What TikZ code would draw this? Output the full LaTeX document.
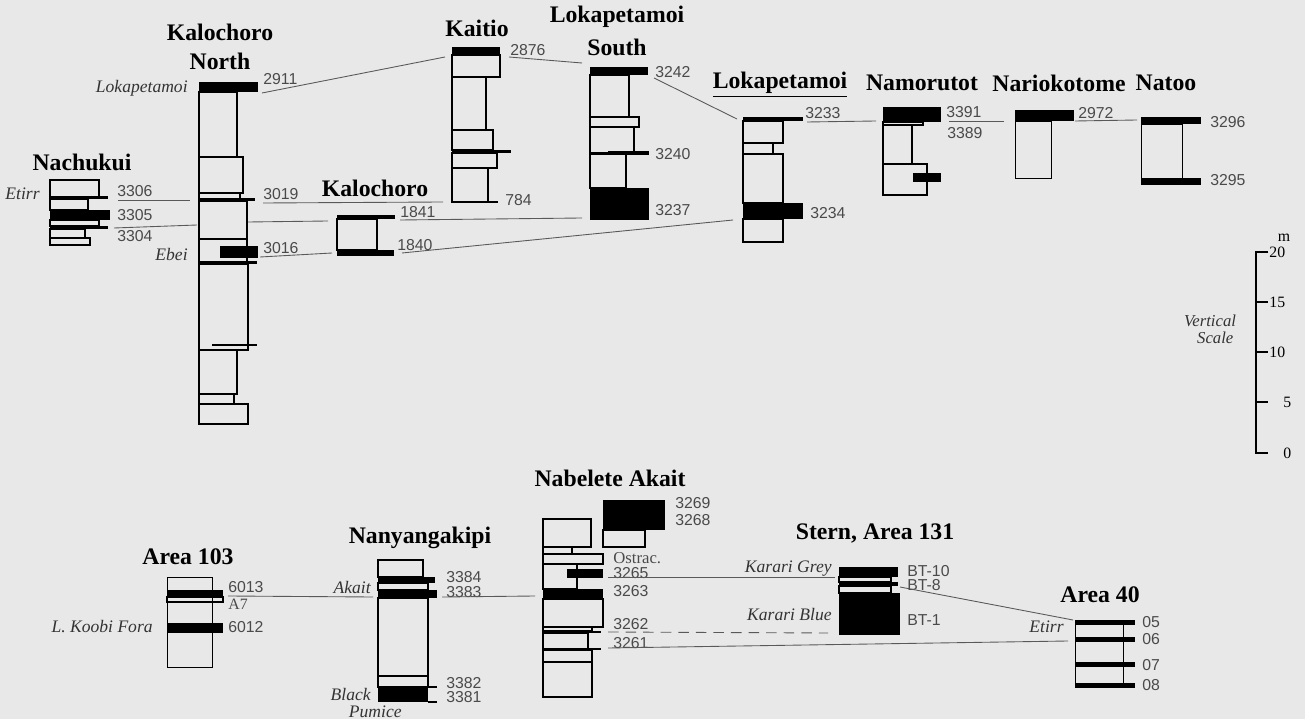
\documentclass[tikz,border=0pt]{standalone}
\usepackage{fontspec}
\setmainfont{Liberation Serif}
\setsansfont{Liberation Sans}
\usetikzlibrary{positioning}
\definecolor{paper}{HTML}{E8E8E8}
\definecolor{numgray}{HTML}{4A4A4A}

\begin{document}
\begin{tikzpicture}[x=0.02cm, y=-0.02cm,
        bed/.style={draw, line width=0.8pt},
        thinbed/.style={draw, line width=0.5pt},
        corr/.style={draw=black!65, line width=0.5pt},
        num/.style={anchor=west, inner sep=0pt, text=numgray, font=\sffamily\fontsize{9}{10}\selectfont},
        tuff/.style={anchor=east, inner sep=0pt, text=black!80, font=\itshape\fontsize{10}{11}\selectfont},
        fm/.style={align=center, inner sep=0pt, font=\bfseries\fontsize{13.5}{16.5}\selectfont}]
      \useasboundingbox[fill=paper] (0,0) rectangle (1305,719);

      % Section titles
      \node[fm] (tNachukui) at (82,162) {Nachukui};
      \node[fm] (tKalNorth) at (220,47) {Kalochoro\\North};
      \node[fm] (tKaitio) at (477,28) {Kaitio};
      \node[fm] (tKalochoro) at (375,188) {Kalochoro};
      \node[fm, font=\bfseries\fontsize{13.5}{18.5}\selectfont] (tLokSouth) at (617,31) {Lokapetamoi\\South};
      \node[fm] (tLokapetamoi) at (780,85) {\underline{Lokapetamoi}};
      \node[fm] (tNamorutot) at (922,83) {Namorutot};
      \node[fm] (tNariokotome) at (1059,83) {Nariokotome};
      \node[fm] (tNatoo) at (1166,83) {Natoo};
      \node[fm] (tArea103) at (188,557) {Area 103};
      \node[fm] (tNanyang) at (420,538) {Nanyangakipi};
      \node[fm] (tNabelete) at (610,478) {Nabelete Akait};
      \node[fm] (tStern) at (875,533) {Stern, Area 131};
      \node[fm] (tArea40) at (1100,595) {Area 40};

      % Nachukui
      \draw[bed] (50,180) rectangle (99,197);
      \fill (50,196) rectangle (108,199);
      \draw[bed] (50,199) rectangle (88,210);
      \fill (50,210) rectangle (110,220);
      \draw[bed] (50,220) rectangle (99,226);
      \fill (50,226) rectangle (108,229);
      \draw[bed] (50,229) rectangle (85,238);
      \draw[bed] (50,238) rectangle (90,245);
      \node[tuff] (etirrA) at (40,194) {Etirr};
      \node[num] (n3306) at (117,191) {3306};
      \node[num] (n3305) at (117,215) {3305};
      \node[num] (n3304) at (117,236) {3304};

      % Kalochoro North
      \fill (199,82) rectangle (258,92);
      \draw[bed] (199,92) rectangle (237,157);
      \draw[bed] (199,157) rectangle (243,193);
      \draw[bed] (199,193) rectangle (240,199);
      \fill (199,198) rectangle (255,201);
      \draw[bed] (199,201) rectangle (247,239);
      \draw[bed] (199,239) rectangle (247,262);
      \fill (220,246) rectangle (258,258);
      \fill (199,261) rectangle (257,264);
      \draw[bed] (199,264) rectangle (248,350);
      \fill (212,344) rectangle (257,346);
      \draw[bed] (199,350) rectangle (237,394);
      \draw[bed] (199,394) rectangle (234,404);
      \draw[bed] (199,404) rectangle (248,424);
      \node[tuff] (lokA) at (188,88) {Lokapetamoi};
      \node[tuff] (ebei) at (188,254) {Ebei};
      \node[num] (n2911) at (263,79) {2911};
      \node[num] (n3019) at (263,194) {3019};
      \node[num] (n3016) at (263,248) {3016};

      % Kaitio
      \fill (452,47) rectangle (500,55);
      \draw[bed] (452,55) rectangle (500,77);
      \draw[bed] (452,77) rectangle (486,130);
      \draw[bed] (452,130) rectangle (493,150);
      \fill (452,150) rectangle (511,153);
      \draw[bed] (452,153) rectangle (497,168);
      \draw[bed] (452,168) rectangle (488,202);
      \fill (452,201) rectangle (498,203);
      \node[num] (n2876) at (510,50) {2876};
      \node[num] (n784) at (505,200) {784};

      % Kalochoro
      \fill (337,215) rectangle (395,219);
      \draw[bed] (337,219) rectangle (377,250);
      \fill (337,250) rectangle (394,256);
      \node[num] (n1841) at (400,212) {1841};
      \node[num] (n1840) at (397,245) {1840};

      % Lokapetamoi South
      \fill (590,67) rectangle (648,75);
      \draw[bed] (590,75) rectangle (629,117);
      \draw[bed] (590,117) rectangle (639,127);
      \draw[bed] (590,127) rectangle (634,153);
      \fill (608,151) rectangle (649,155);
      \draw[bed] (590,154) rectangle (626,188);
      \fill (590,188) rectangle (649,220);
      \node[num] (n3242) at (655,72) {3242};
      \node[num] (n3240) at (655,154) {3240};
      \node[num] (n3237) at (655,210) {3237};

      % Lokapetamoi
      \fill (743,117) rectangle (803,121);
      \draw[bed] (743,121) rectangle (783,143);
      \draw[bed] (743,143) rectangle (773,154);
      \draw[bed] (743,154) rectangle (783,203);
      \fill (743,203) rectangle (803,219);
      \draw[bed] (743,219) rectangle (783,242);
      \node[num] (n3233) at (805,113) {3233};
      \node[num] (n3234) at (810,213) {3234};

      % Namorutot
      \fill (883,107) rectangle (941,122);
      \draw[bed] (883,122) rectangle (923,125);
      \draw[bed] (883,125) rectangle (912,164);
      \draw[bed] (883,164) rectangle (927,195);
      \fill (913,173) rectangle (941,182);
      \node[num] (n3391) at (946,112) {3391};
      \node[num] (n3389) at (947,133) {3389};

      % Nariokotome
      \fill (1015,110) rectangle (1074,121);
      \draw[thinbed] (1015,121) rectangle (1051,178);
      \node[num] (n2972) at (1078,113) {2972};

      % Natoo
      \fill (1141,117) rectangle (1201,124);
      \draw[thinbed] (1141,124) rectangle (1182,178);
      \fill (1141,178) rectangle (1201,185);
      \node[num] (n3296) at (1210,122) {3296};
      \node[num] (n3295) at (1210,180) {3295};

      % Correlation lines, upper row
      \coordinate (knA) at (262,93);   \coordinate (ktA) at (445,57);
      \coordinate (ktB) at (509,57);   \coordinate (lsA) at (582,63);
      \coordinate (lsB) at (654,78);   \coordinate (lkA) at (737,119);
      \coordinate (lkB) at (807,122);  \coordinate (nmA) at (876,121);
      \coordinate (nmB) at (949,121);  \coordinate (nkA) at (1004,121);
      \coordinate (nkB) at (1075,121); \coordinate (ntA) at (1137,120);
      \coordinate (ncA) at (118,200);  \coordinate (knB) at (190,200);
      \coordinate (ncB) at (114,228);  \coordinate (knC) at (197,225);
      \coordinate (knD) at (263,203);  \coordinate (ktC) at (443,202);
      \coordinate (knE) at (248,222);  \coordinate (kcA) at (328,221);
      \coordinate (kcB) at (400,220);  \coordinate (lsC) at (582,218);
      \coordinate (knF) at (260,257);  \coordinate (kcC) at (332,253);
      \coordinate (kcD) at (402,253);  \coordinate (lkC) at (733,220);
      \draw[corr] (knA) -- (ktA);
      \draw[corr] (ktB) -- (lsA);
      \draw[corr] (lsB) -- (lkA);
      \draw[corr] (lkB) -- (nmA);
      \draw[corr] (nmB) -- (nkA);
      \draw[corr] (nkB) -- (ntA);
      \draw[corr] (ncA) -- (knB);
      \draw[corr] (ncB) -- (knC);
      \draw[corr] (knD) -- (ktC);
      \draw[corr] (knE) -- (kcA);
      \draw[corr] (kcB) -- (lsC);
      \draw[corr] (knF) -- (kcC);
      \draw[corr] (kcD) -- (lkC);

      % Vertical scale
      \draw[line width=0.9pt] (1268,252) -- (1256,252) -- (1256,453) -- (1268,453);
      \foreach \yy in {302,352,402}
        \draw[line width=0.9pt] (1256,\yy) -- (1268,\yy);
      \node[inner sep=0pt, font=\fontsize{9}{10}\selectfont] (unitm) at (1284,238) {m};
      \node[num, text=black, font=\fontsize{9}{10}\selectfont] (s20) at (1269,252) {20};
      \node[num, text=black, font=\fontsize{9}{10}\selectfont] (s15) at (1269,302) {15};
      \node[num, text=black, font=\fontsize{9}{10}\selectfont] (s10) at (1269,352) {10};
      \node[num, text=black, font=\fontsize{9}{10}\selectfont] (s5) at (1283,402) {5};
      \node[num, text=black, font=\fontsize{9}{10}\selectfont] (s0) at (1283,453) {0};
      \node[align=center, inner sep=0pt, text=black!80, font=\itshape\fontsize{9.5}{9.5}\selectfont] (vscale) at (1210,329) {Vertical\\\hspace*{6pt}Scale};

      % Area 103
      \draw[thinbed] (167,577) rectangle (212,667);
      \fill (167,590) rectangle (223,597);
      \draw[bed] (167,597) rectangle (223,602);
      \fill (167,623) rectangle (223,633);
      \node[num] (n6013) at (228,587) {6013};
      \node[num, font=\fontsize{9}{10}\selectfont] (nA7) at (228,604) {A7};
      \node[num] (n6012) at (228,627) {6012};
      \node[tuff] (koobi) at (153,627) {L. Koobi Fora};

      % Nanyangakipi
      \draw[bed] (378,560) rectangle (423,577);
      \fill (378,577) rectangle (435,583);
      \draw[bed] (378,583) rectangle (428,590);
      \fill (378,590) rectangle (437,598);
      \draw[bed] (378,598) rectangle (428,676);
      \draw[bed] (378,676) rectangle (428,687);
      \fill (378,687) rectangle (428,702);
      \draw[bed] (428,687) -- (437,687);
      \draw[bed] (428,702) -- (437,702);
      \node[num] (n3384) at (446,577) {3384};
      \node[num] (n3383) at (446,592) {3383};
      \node[num] (n3382) at (446,683) {3382};
      \node[num] (n3381) at (446,697) {3381};
      \node[tuff] (akait) at (371,587) {Akait};
      \node[tuff] (black) at (371,694) {Black};
      \node[tuff] (pumice) at (402,712) {Pumice};

      % Nabelete Akait
      \fill (603,500) rectangle (665,530);
      \draw[bed] (603,530) rectangle (645,547);
      \draw[bed] (543,519) rectangle (591,547);
      \draw[bed] (543,547) rectangle (572,554);
      \draw[bed] (543,554) rectangle (603,564);
      \draw[bed] (543,564) rectangle (577,589);
      \fill (567,569) rectangle (603,578);
      \fill (543,589) rectangle (603,599);
      \draw[bed] (543,599) rectangle (603,627);
      \draw[bed] (543,627) rectangle (592,631);
      \fill (543,631) rectangle (601,633);
      \draw[bed] (543,633) rectangle (588,649);
      \fill (543,648) rectangle (601,650);
      \draw[bed] (543,650) rectangle (592,662);
      \draw[bed] (543,662) rectangle (592,697);
      \node[num] (n3269) at (675,503) {3269};
      \node[num] (n3268) at (675,520) {3268};
      \node[num, font=\fontsize{9.5}{10}\selectfont] (ostrac) at (613,558) {Ostrac.};
      \node[num] (n3265) at (613,573) {3265};
      \node[num] (n3263) at (613,591) {3263};
      \node[num] (n3262) at (613,624) {3262};
      \node[num] (n3261) at (613,643) {3261};

      % Stern, Area 131
      \fill (839,567) rectangle (898,577);
      \draw[bed] (839,577) rectangle (891,582);
      \fill (839,582) rectangle (898,586);
      \draw[bed] (839,586) rectangle (891,593);
      \fill (839,593) rectangle (900,635);
      \node[num] (nBT10) at (907,571) {BT-10};
      \node[num] (nBT8) at (907,585) {BT-8};
      \node[num] (nBT1) at (907,620) {BT-1};
      \node[tuff] (kgrey) at (832,569) {Karari Grey};
      \node[tuff] (kblue) at (832,615) {Karari Blue};

      % Area 40
      \draw[thinbed] (1075,622) -- (1075,685);
      \draw[thinbed] (1123,622) -- (1123,685);
      \foreach \yy in {622,639,664,685}
        \fill (1075,\yy-2.5) rectangle (1135,\yy+2.5);
      \node[num] (n05) at (1142,622) {05};
      \node[num] (n06) at (1142,639) {06};
      \node[num] (n07) at (1142,665) {07};
      \node[num] (n08) at (1142,685) {08};
      \node[tuff] (etirrB) at (1064,627) {Etirr};

      % Correlation lines, lower row
      \coordinate (arA) at (228,596);  \coordinate (nyA) at (373,597);
      \coordinate (nyB) at (442,597);  \coordinate (nbA) at (535,596);
      \coordinate (nbB) at (608,577);  \coordinate (stA) at (835,577);
      \coordinate (nbC) at (608,632);  \coordinate (stB) at (828,633);
      \coordinate (nbD) at (608,648);  \coordinate (aqA) at (1068,641);
      \coordinate (stC) at (900,587);  \coordinate (aqB) at (1073,620);
      \draw[corr] (arA) -- (nyA);
      \draw[corr] (nyB) -- (nbA);
      \draw[corr] (nbB) -- (stA);
      \draw[corr, dashed, dash pattern=on 6pt off 4pt] (nbC) -- (stB);
      \draw[corr] (nbD) -- (aqA);
      \draw[corr] (stC) -- (aqB);
    \end{tikzpicture}
\end{document}
